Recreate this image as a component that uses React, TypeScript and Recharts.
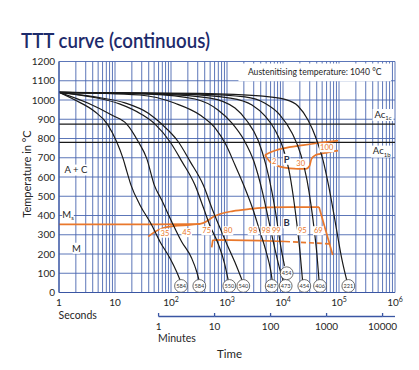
import React from 'react';
import {
  ComposedChart,
  Line,
  XAxis,
  YAxis,
  CartesianGrid,
  ReferenceLine,
  ReferenceArea,
  Scatter,
} from 'recharts';

// ---------- axes ----------
const X_MIN = 1;
const X_MAX = 1000000;
const yTicks = [0, 100, 200, 300, 400, 500, 600, 700, 800, 900, 1000, 1100, 1200];
const decadeStarts = [1, 10, 100, 1000, 10000, 100000];
const minorSteps = [1, 2, 3, 4, 5, 6, 7, 8, 9];
const secondTicks = [...decadeStarts.flatMap((d) => minorSteps.map((m) => d * m)), X_MAX];
const minuteTicks = [60, 600, 6000, 60000, 600000];
const minuteTickLabels = ['1', '10', '100', '1000', '10000'];

// ---------- reference temperatures ----------
const ac1c = 875;
const ac1b = 780;
const austenitisingText = 'Austenitising temperature: 1040 °C';

// ---------- cooling curves [seconds, °C] ----------
const cool584a = [[1, 1040], [1.93, 1000], [4.39, 939], [7.3, 875], [10.7, 783], [13.9, 697], [16.3, 628], [19.3, 558], [27.9, 455], [45.2, 351], [63.6, 264], [95.9, 178], [126, 108], [145, 65]];
const cool584b = [[1, 1040], [3.34, 983], [8.73, 922], [16.2, 875], [26.1, 783], [36.8, 697], [50.3, 558], [68.2, 480], [103, 368], [155, 264], [234, 178], [288, 108], [316, 65]];
const cool550 = [[1, 1040], [4, 1015], [12, 980], [30, 925], [51.8, 875], [95.9, 783], [157, 680], [268, 558], [380, 440], [490, 351], [710, 247], [900, 153], [1050, 65]];
const cool540 = [[1, 1040], [4.39, 1016], [15, 985], [40, 930], [68, 875], [135, 783], [220, 680], [377, 558], [551, 430], [725, 345], [1010, 247], [1380, 158], [1850, 65]];
const cool487 = [[1, 1040], [27.9, 1026], [118, 983], [330, 922], [611, 855], [963, 766], [1390, 662], [2050, 548], [2850, 439], [3800, 325], [5000, 212], [6000, 117], [6400, 65]];
const cool473 = [[1, 1040], [42.2, 1031], [268, 1005], [690, 948], [1227, 880], [2012, 792], [3035, 679], [4217, 532], [5397, 391], [6905, 247], [8660, 127], [10000, 65]];
const cool454a = [[1, 1040], [63.6, 1031], [497, 1010], [1390, 958], [2276, 891], [3578, 792], [4966, 662], [6360, 522], [7650, 387], [9020, 247], [10640, 138]];
const cool454b = [[1, 1040], [145, 1031], [1132, 1010], [2793, 974], [4770, 917], [7195, 844], [10000, 751], [12790, 636], [15400, 491], [17780, 351], [20130, 210], [22300, 65]];
const cool406 = [[1, 1040], [330, 1031], [2096, 1016], [4770, 983], [8840, 922], [14480, 829], [20950, 714], [26840, 584], [31620, 455], [36520, 314], [40460, 195], [43950, 65]];
const cool221 = [[1, 1040], [330, 1034], [3882, 1021], [10860, 1003], [18530, 969], [27930, 896], [38820, 803], [51800, 688], [64940, 558], [79800, 418], [95950, 283], [113200, 169], [137000, 65]];

// ---------- transformation lines ----------
const pearliteUpper = [[4770, 714], [5860, 727], [10120, 749], [23060, 766], [45800, 778], [96000, 789]];
const pearliteLower = [[4770, 714], [5860, 679], [8840, 654], [13330, 645], [25750, 642], [29720, 657], [32270, 694], [37260, 712], [45800, 720], [61000, 727], [95950, 737]];
const msBainiteStart = [[1, 354], [50, 354], [218, 355], [330, 357], [439, 371], [562, 392], [750, 408], [1280, 423], [2575, 434], [5180, 442], [13330, 444], [43950, 444]];
const bainiteRight = [[43950, 444], [77200, 195]];
const bainiteLowerStart = [[39.3, 291], [51.8, 316], [71.9, 335], [110, 345], [218, 351], [330, 356]];
const bainiteFinish = [[533, 235], [556, 270], [640, 273], [1132, 272], [3882, 269], [10860, 265]];
const bainiteFinishDashed = [[10860, 265], [67500, 253]];

// ---------- hardness circles ----------
const hardnessT = [151, 320, 1099, 1954, 6280, 11170, 11640, 23990, 45800, 146600];
const hardnessTemp = [34, 34, 34, 34, 34, 34, 100, 34, 34, 34];
const hardnessValues = ['584', '584', '550', '540', '487', '473', '454', '454', '406', '221'];

// ---------- orange percentages ----------
const pctT = [78.1, 191, 434, 1042, 2912, 4966, 7590, 22120, 42700, 6995, 20700, 60300];
const pctTemp = [308, 311, 321, 321, 321, 321, 321, 321, 321, 679, 671, 752];
const pctLabels = ['35', '45', '75', '80', '98', '98', '99', '95', '69', '2', '30', '100'];

// ---------- phase labels ----------
const phaseT = [2.0, 2.04, 11640, 11640];
const phaseTemp = [636, 230, 692, 362];
const phaseLabels = ['A + C', 'M', 'P', 'B'];

const subT = [1.45, 611000, 579000];
const subTemp = [403, 922, 732];
const subMain = ['M', 'Ac', 'Ac'];
const subIdx = ['s', '1c', '1b'];

// ---------- styles ----------
const GRID = '#4a67b0';
const AXIS = '#3a56a3';
const BLACK = '#1a1a1a';
const ORANGE = '#e9782c';
const NAVY = '#1d2b6b';
const TEXT = '#262626';
const FONT = 'Lato, "Open Sans", sans-serif';

const toPts = (a: number[][]) => a.map(([t, T]) => ({ t, T }));

const hardness = hardnessT.map((t, i) => ({ t, T: hardnessTemp[i], hv: hardnessValues[i] }));
const pcts = pctT.map((t, i) => ({ t, T: pctTemp[i], label: pctLabels[i] }));
const phases = phaseT.map((t, i) => ({ t, T: phaseTemp[i], label: phaseLabels[i] }));
const subs = subT.map((t, i) => ({ t, T: subTemp[i], main: subMain[i], sub: subIdx[i] }));

const coolingCurves = [cool584a, cool584b, cool550, cool540, cool487, cool473, cool454a, cool454b, cool406, cool221];
const orangeCurves = [pearliteUpper, pearliteLower, msBainiteStart, bainiteLowerStart];
const orangeStraight = [bainiteRight, bainiteFinish];

const SecTick = (props: any) => {
  const { x, y, payload } = props;
  const v = payload.value;
  const isDecade = decadeStarts.includes(v) || v === X_MAX;
  if (!isDecade) return <g />;
  const e = Math.round(Math.log10(v));
  return (
    <text x={x} y={y + 13} textAnchor="middle" fontSize={10} fill={TEXT} fontFamily={FONT}>
      {e === 0 ? '1' : '10'}
      {e >= 2 ? (
        <tspan dy={-4} fontSize={7}>
          {e}
        </tspan>
      ) : null}
    </text>
  );
};

const MinTick = (props: any) => {
  const { x, y, payload, index, width } = props;
  const v = payload.value;
  const next = index < minuteTicks.length - 1 ? minuteTicks[index + 1] : X_MAX;
  const span = Math.log10(X_MAX) - Math.log10(X_MIN);
  const seg = ((Math.log10(next) - Math.log10(v)) / span) * (width || 0);
  return (
    <g>
      <line x1={x} y1={y} x2={x + seg} y2={y} stroke={AXIS} strokeWidth={1.3} />
      <line x1={x} y1={y - 3.5} x2={x} y2={y} stroke={AXIS} strokeWidth={1.3} />
      <text x={x} y={y + 13} textAnchor="middle" fontSize={10} fill={TEXT} fontFamily={FONT}>
        {minuteTickLabels[index]}
      </text>
    </g>
  );
};

const HardnessDot = (p: any) => {
  const { cx, cy, payload } = p;
  return (
    <g>
      <circle cx={cx} cy={cy} r={6.4} fill="#fff" stroke="#4a4a4a" strokeWidth={0.8} />
      <text x={cx} y={cy} dy="0.35em" textAnchor="middle" fontSize={5.6} fill="#333" fontFamily={FONT}>
        {payload.hv}
      </text>
    </g>
  );
};

const PctLabel = (p: any) => {
  const { cx, cy, payload } = p;
  const w = payload.label.length * 4.3 + 2;
  return (
    <g>
      <rect x={cx - w / 2} y={cy - 4.5} width={w} height={9} fill="#fff" />
      <text x={cx} y={cy} dy="0.35em" textAnchor="middle" fontSize={7.6} fill={ORANGE} fontFamily={FONT}>
        {payload.label}
      </text>
    </g>
  );
};

const PhaseLabel = (p: any) => {
  const { cx, cy, payload } = p;
  const w = payload.label.length * 5.2 + 2;
  const bold = payload.label === 'P' || payload.label === 'B';
  return (
    <g>
      <rect x={cx - w / 2} y={cy - 5.5} width={w} height={11} fill="#fff" />
      <text x={cx} y={cy} dy="0.35em" textAnchor="middle" fontSize={9.5} fontWeight={bold ? 700 : 400} fill={bold ? '#2a2f4a' : TEXT} fontFamily={FONT}>
        {payload.label}
      </text>
    </g>
  );
};

const SubLabel = (p: any) => {
  const { cx, cy, payload } = p;
  const w = payload.main.length * 6 + payload.sub.length * 3.5 + 2;
  return (
    <g>
      <rect x={cx - w / 2} y={cy - 6} width={w} height={12} fill="#fff" />
      <text x={cx} y={cy} dy="0.3em" textAnchor="middle" fontSize={9.5} fill={TEXT} fontFamily={FONT}>
        {payload.main}
        <tspan dy={2.5} fontSize={6}>
          {payload.sub}
        </tspan>
      </text>
    </g>
  );
};

export default function App() {
  return (
    <div style={{ position: 'absolute', left: 0, top: 0, width: 419, height: 370, background: '#fff', fontFamily: FONT }}>
      <ComposedChart width={419} height={370} margin={{ top: 61.5, right: 24, bottom: 23.5, left: 0 }}>
        <CartesianGrid stroke={GRID} strokeWidth={0.9} />
        <XAxis
          type="number"
          dataKey="t"
          scale="log"
          domain={[X_MIN, X_MAX]}
          allowDataOverflow
          ticks={secondTicks}
          interval={0}
          tickLine={false}
          tickSize={0}
          tickMargin={0}
          height={24}
          axisLine={{ stroke: AXIS, strokeWidth: 1.2 }}
          tick={<SecTick />}
        />
        <XAxis
          xAxisId="m"
          type="number"
          dataKey="t"
          scale="log"
          domain={[X_MIN, X_MAX]}
          allowDataOverflow
          ticks={minuteTicks}
          interval={0}
          tickLine={false}
          tickSize={0}
          tickMargin={0}
          height={30}
          axisLine={false}
          tick={<MinTick />}
        />
        <YAxis
          type="number"
          dataKey="T"
          domain={[0, 1200]}
          allowDataOverflow
          ticks={yTicks}
          interval={0}
          width={59}
          tickLine={false}
          tickSize={2}
          tickMargin={2}
          axisLine={{ stroke: AXIS, strokeWidth: 1.2 }}
          tick={{ fontSize: 10, fill: TEXT, fontFamily: FONT }}
        />
        <ReferenceArea
          x1={1600}
          x2={850000}
          y1={1098}
          y2={1190}
          fill="#fff"
          fillOpacity={1}
          stroke="none"
          ifOverflow="visible"
          label={{ value: austenitisingText, position: 'center', fontSize: 8.6, fill: TEXT, fontFamily: FONT }}
        />
        <ReferenceLine y={ac1c} stroke={BLACK} strokeWidth={1.3} />
        <ReferenceLine y={ac1b} stroke={BLACK} strokeWidth={1.3} />
        <Scatter data={pcts} shape={PctLabel} isAnimationActive={false} />
        <Scatter data={phases} shape={PhaseLabel} isAnimationActive={false} />
        <Scatter data={subs} shape={SubLabel} isAnimationActive={false} />
        {orangeCurves.map((c, i) => (
          <Line key={'o' + i} data={toPts(c)} dataKey="T" type="monotone" stroke={ORANGE} strokeWidth={1.7} dot={false} activeDot={false} isAnimationActive={false} />
        ))}
        {orangeStraight.map((c, i) => (
          <Line key={'s' + i} data={toPts(c)} dataKey="T" type="linear" stroke={ORANGE} strokeWidth={1.7} dot={false} activeDot={false} isAnimationActive={false} />
        ))}
        <Line data={toPts(bainiteFinishDashed)} dataKey="T" type="linear" stroke={ORANGE} strokeWidth={1.7} strokeDasharray="5 3" dot={false} activeDot={false} isAnimationActive={false} />
        {coolingCurves.map((c, i) => (
          <Line key={'c' + i} data={toPts(c)} dataKey="T" type="monotone" stroke={BLACK} strokeWidth={1.2} dot={false} activeDot={false} isAnimationActive={false} />
        ))}
        <Scatter data={hardness} shape={HardnessDot} isAnimationActive={false} />
      </ComposedChart>
      <svg width={419} height={370} style={{ position: 'absolute', left: 0, top: 0, pointerEvents: 'none' }}>
        <text x={21} y={48} fontSize={21} fontWeight={600} fill={NAVY} fontFamily={FONT} textLength={189} lengthAdjust="spacingAndGlyphs">
          TTT curve (continuous)
        </text>
        <text transform="translate(30.5,174) rotate(-90)" textAnchor="middle" fontSize={11} fill={TEXT} fontFamily={FONT}>
          Temperature in °C
        </text>
        <text x={58.5} y={318.5} fontSize={10.5} fill={TEXT} fontFamily={FONT}>
          Seconds
        </text>
        <text x={158} y={341.5} fontSize={10.5} fill={TEXT} fontFamily={FONT}>
          Minutes
        </text>
        <text x={217} y={358} fontSize={11.5} fill={TEXT} fontFamily={FONT}>
          Time
        </text>
      </svg>
    </div>
  );
}
